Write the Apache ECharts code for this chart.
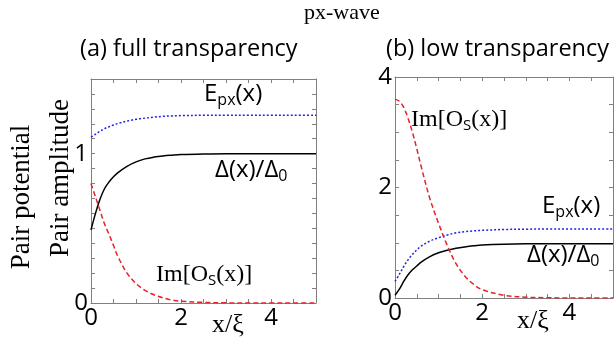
<!DOCTYPE html>
<html>
<head>
<meta charset="utf-8">
<script src="https://cdn.jsdelivr.net/npm/echarts@6/dist/echarts.min.js"></script>
<style>html,body{margin:0;padding:0;background:#fff;}#c{width:616px;height:346px;}</style>
</head>
<body>
<div id="c"></div>
<script>
// ---- data ----
var xs = [0,0.1,0.2,0.3,0.4,0.5,0.6,0.8,1.0,1.2,1.4,1.6,1.8,2.0,2.5,3.0,3.5,4.0,4.5,5.0];
// (a) full transparency
var aDelta = [0.49,0.60,0.695,0.765,0.81,0.845,0.873,0.915,0.945,0.965,0.977,0.985,0.99,0.994,0.998,1.0,1.0,1.0,1.0,1.0];
var aEpx   = [1.11,1.13,1.15,1.168,1.18,1.192,1.202,1.218,1.23,1.238,1.245,1.25,1.253,1.255,1.257,1.258,1.258,1.258,1.258,1.258];
var aImOs  = [0.80,0.71,0.62,0.53,0.46,0.385,0.31,0.20,0.13,0.085,0.055,0.035,0.02,0.012,0.004,0.001,0,0,0,0];
// (b) low transparency
var bDelta = [0.05,0.16,0.30,0.42,0.51,0.58,0.65,0.75,0.82,0.865,0.90,0.925,0.945,0.96,0.975,0.98,0.98,0.98,0.98,0.98];
var bEpx   = [0.30,0.43,0.57,0.69,0.79,0.87,0.94,1.03,1.09,1.14,1.18,1.20,1.215,1.225,1.24,1.245,1.25,1.25,1.25,1.25];
var bImOs  = [3.60,3.56,3.45,3.25,3.0,2.70,2.38,1.80,1.35,0.95,0.62,0.40,0.25,0.15,0.05,0.015,0.005,0,0,0];
var aYLabels = [0,1];
var bYLabels = [0,2,4];
var xLabels = [0,2,4];

function pairs(y){ return xs.map(function(x,i){ return [x,y[i]]; }); }
var GRAY = '#808080';
var RED = '#e8202a', BLUE = '#2323e6', BLACK = '#000';
var SANS = '"Open Sans", "DejaVu Sans", sans-serif';
var SERIF = '"Liberation Serif", "DejaVu Serif", serif';

function inList(v, list){ for (var i=0;i<list.length;i++){ if (Math.abs(v-list[i])<1e-6) return true; } return false; }

function xAx(gi, pos, labels){
  return {
    type:'value', gridIndex:gi, position:pos, min:0, max:5, interval:0.5,
    axisLine:{show:true, onZero:false, lineStyle:{color:GRAY, width:1}},
    axisTick:{show:true, inside:true, length:4, lineStyle:{color:GRAY}},
    splitLine:{show:false},
    axisLabel:{show:!!labels, margin:3, color:'#000', fontFamily:SANS, fontSize:24,
      formatter:function(v){ return labels && inList(v,labels) ? String(Math.round(v)) : ''; }}
  };
}
function yAx(gi, pos, max, step, labels){
  return {
    type:'value', gridIndex:gi, position:pos, min:0, max:max, interval:step,
    axisLine:{show:true, onZero:false, lineStyle:{color:GRAY, width:1}},
    axisTick:{show:true, inside:true, length:4, lineStyle:{color:GRAY}},
    splitLine:{show:false},
    axisLabel:{show:!!labels, margin:3, color:'#000', fontFamily:SANS, fontSize:24,
      formatter:function(v){ return labels && inList(v,labels) ? String(Math.round(v)) : ''; }}
  };
}
function ser(xi, yi, data, color, type){
  return {type:'line', xAxisIndex:xi, yAxisIndex:yi, data:pairs(data), showSymbol:false, smooth:0.35,
    silent:true, animation:false, lineStyle:{color:color, width:1.5, type:type}, z:3};
}

var chart = echarts.init(document.getElementById('c'), null, {renderer:'canvas'});
var sub = {fontFamily:SANS, fontSize:16, padding:[13,0,0,0]};
var main = {fontFamily:SANS, fontSize:24};
var serifMain = {fontFamily:SERIF, fontSize:24};
var sSub = {fontFamily:SANS, fontSize:15, padding:[12,0,0,0]};
function label(x,y,text,rich){
  return {type:'text', left:x, top:y, z:10, style:{text:text, rich:rich, fill:'#000', textAlign:'left', textVerticalAlign:'top'}};
}
chart.setOption({
  animation:false,
  backgroundColor:'#fff',
  grid:[
    {left:91, top:79, width:225, height:224, show:false},
    {left:395, top:77, width:224, height:221, show:false}
  ],
  xAxis:[ xAx(0,'bottom',xLabels), xAx(0,'top',null), xAx(1,'bottom',xLabels), xAx(1,'top',null) ],
  yAxis:[ yAx(0,'left',1.5,0.1,aYLabels), yAx(0,'right',1.5,0.1,null), yAx(1,'left',4,0.5,bYLabels), yAx(1,'right',4,0.5,null) ],
  series:[
    ser(0,0,aEpx,BLUE,[2,2]),
    ser(0,0,aDelta,BLACK,'solid'),
    ser(0,0,aImOs,RED,[5,3]),
    ser(2,2,bEpx,BLUE,[2,2]),
    ser(2,2,bDelta,BLACK,'solid'),
    ser(2,2,bImOs,RED,[5,3])
  ],
  graphic:[
    {type:'text', left:304, top:2, style:{text:'px-wave', fontFamily:SERIF, fontSize:22, fill:'#000'}},
    {type:'text', left:80, top:37, style:{text:'(a) full transparency', fontFamily:SANS, fontSize:23.5, fill:'#000'}},
    {type:'text', left:386, top:37, style:{text:'(b) low transparency', fontFamily:SANS, fontSize:23.5, fill:'#000'}},
    {type:'text', x:22, y:197, rotation:Math.PI/2, style:{text:'Pair potential', fontFamily:SERIF, fontSize:27, fill:'#000', textAlign:'center', textVerticalAlign:'middle'}},
    {type:'text', x:61, y:178, rotation:Math.PI/2, style:{text:'Pair amplitude', fontFamily:SERIF, fontSize:27, fill:'#000', textAlign:'center', textVerticalAlign:'middle'}},
    {type:'text', left:212, top:312, style:{text:'x/ξ', fontFamily:SERIF, fontSize:26, fill:'#000'}},
    {type:'text', left:517, top:308, style:{text:'x/ξ', fontFamily:SERIF, fontSize:26, fill:'#000'}},
    label(204,82,'{m|E}{s|px}{m|(x)}',{m:main,s:sub}),
    label(215,158,'{m|Δ(x)/Δ}{s|0}',{m:main,s:sub}),
    label(156,263,'{m|Im[O}{s|S}{m|(x)]}',{m:serifMain,s:sSub}),
    label(411,108,'{m|Im[O}{s|S}{m|(x)]}',{m:serifMain,s:sSub}),
    label(542,194,'{m|E}{s|px}{m|(x)}',{m:main,s:sub}),
    label(527,243,'{m|Δ(x)/Δ}{s|0}',{m:main,s:sub})
  ]
});
</script>
</body>
</html>
